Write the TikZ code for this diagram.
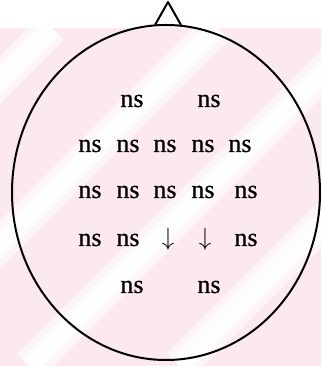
\documentclass[tikz,border=0pt]{standalone}
\usepackage{fontspec}
\setmainfont{Liberation Serif}
\newfontfamily\sitefont[FakeBold=0.5]{Liberation Serif}
\usetikzlibrary{positioning,shapes.geometric}
\definecolor{mypink}{RGB}{252,233,237}
\tikzstyle{lbl}=[font=\sitefont\fontsize{26}{26}\selectfont,inner sep=0,outer sep=0]
\tikzstyle{head}=[line width=2pt,black,line join=round]
\tikzstyle{stripe}=[white,line width=34pt,opacity=0.55]
\tikzstyle{stripe core}=[white,line width=20pt,opacity=0.8]

\begin{document}
\begin{tikzpicture}[x=1pt,y=1pt]
  \useasboundingbox (0,0) rectangle (321,366);

  % faint striped background
  \begin{scope}
    \clip (0,0) rectangle (321,338);
    \fill[mypink] (0,0) rectangle (321,338);
    \foreach \c in {80,245,395,545}{
      \draw[stripe] (\c-28,338) -- (\c-366,0);
      \draw[stripe core] (\c-28,338) -- (\c-366,0);
    }
  \end{scope}

  % head outline and nose
  \node[head,draw,ellipse,minimum width=308,minimum height=335,inner sep=0] (head) at (166,173.5) {};
  \coordinate (noseL) at (155,341);
  \coordinate (noseR) at (181,341);
  \coordinate (nose) at (168,364);
  \draw[head] (noseL) -- (nose) -- (noseR);

  % electrode sites
  \foreach \x/\n in {132/a,209/b}{ \node[lbl] (r1\n) at (\x,265) {ns}; }
  \foreach \x/\n in {90/a,128/b,165/c,203/d,240/e}{ \node[lbl] (r2\n) at (\x,220) {ns}; }
  \foreach \x/\n in {90/a,128/b,165/c,203/d,246/e}{ \node[lbl] (r3\n) at (\x,174) {ns}; }
  \foreach \x/\n in {90/a,128/b}{ \node[lbl] (r4\n) at (\x,126) {ns}; }
  \node[lbl] (r4c) at (168,127) {$\downarrow$};
  \node[lbl] (r4d) at (205,127) {$\downarrow$};
  \node[lbl] (r4e) at (246,126) {ns};
  \foreach \x/\n in {132/a,209/b}{ \node[lbl] (r5\n) at (\x,79) {ns}; }
\end{tikzpicture}
\end{document}
